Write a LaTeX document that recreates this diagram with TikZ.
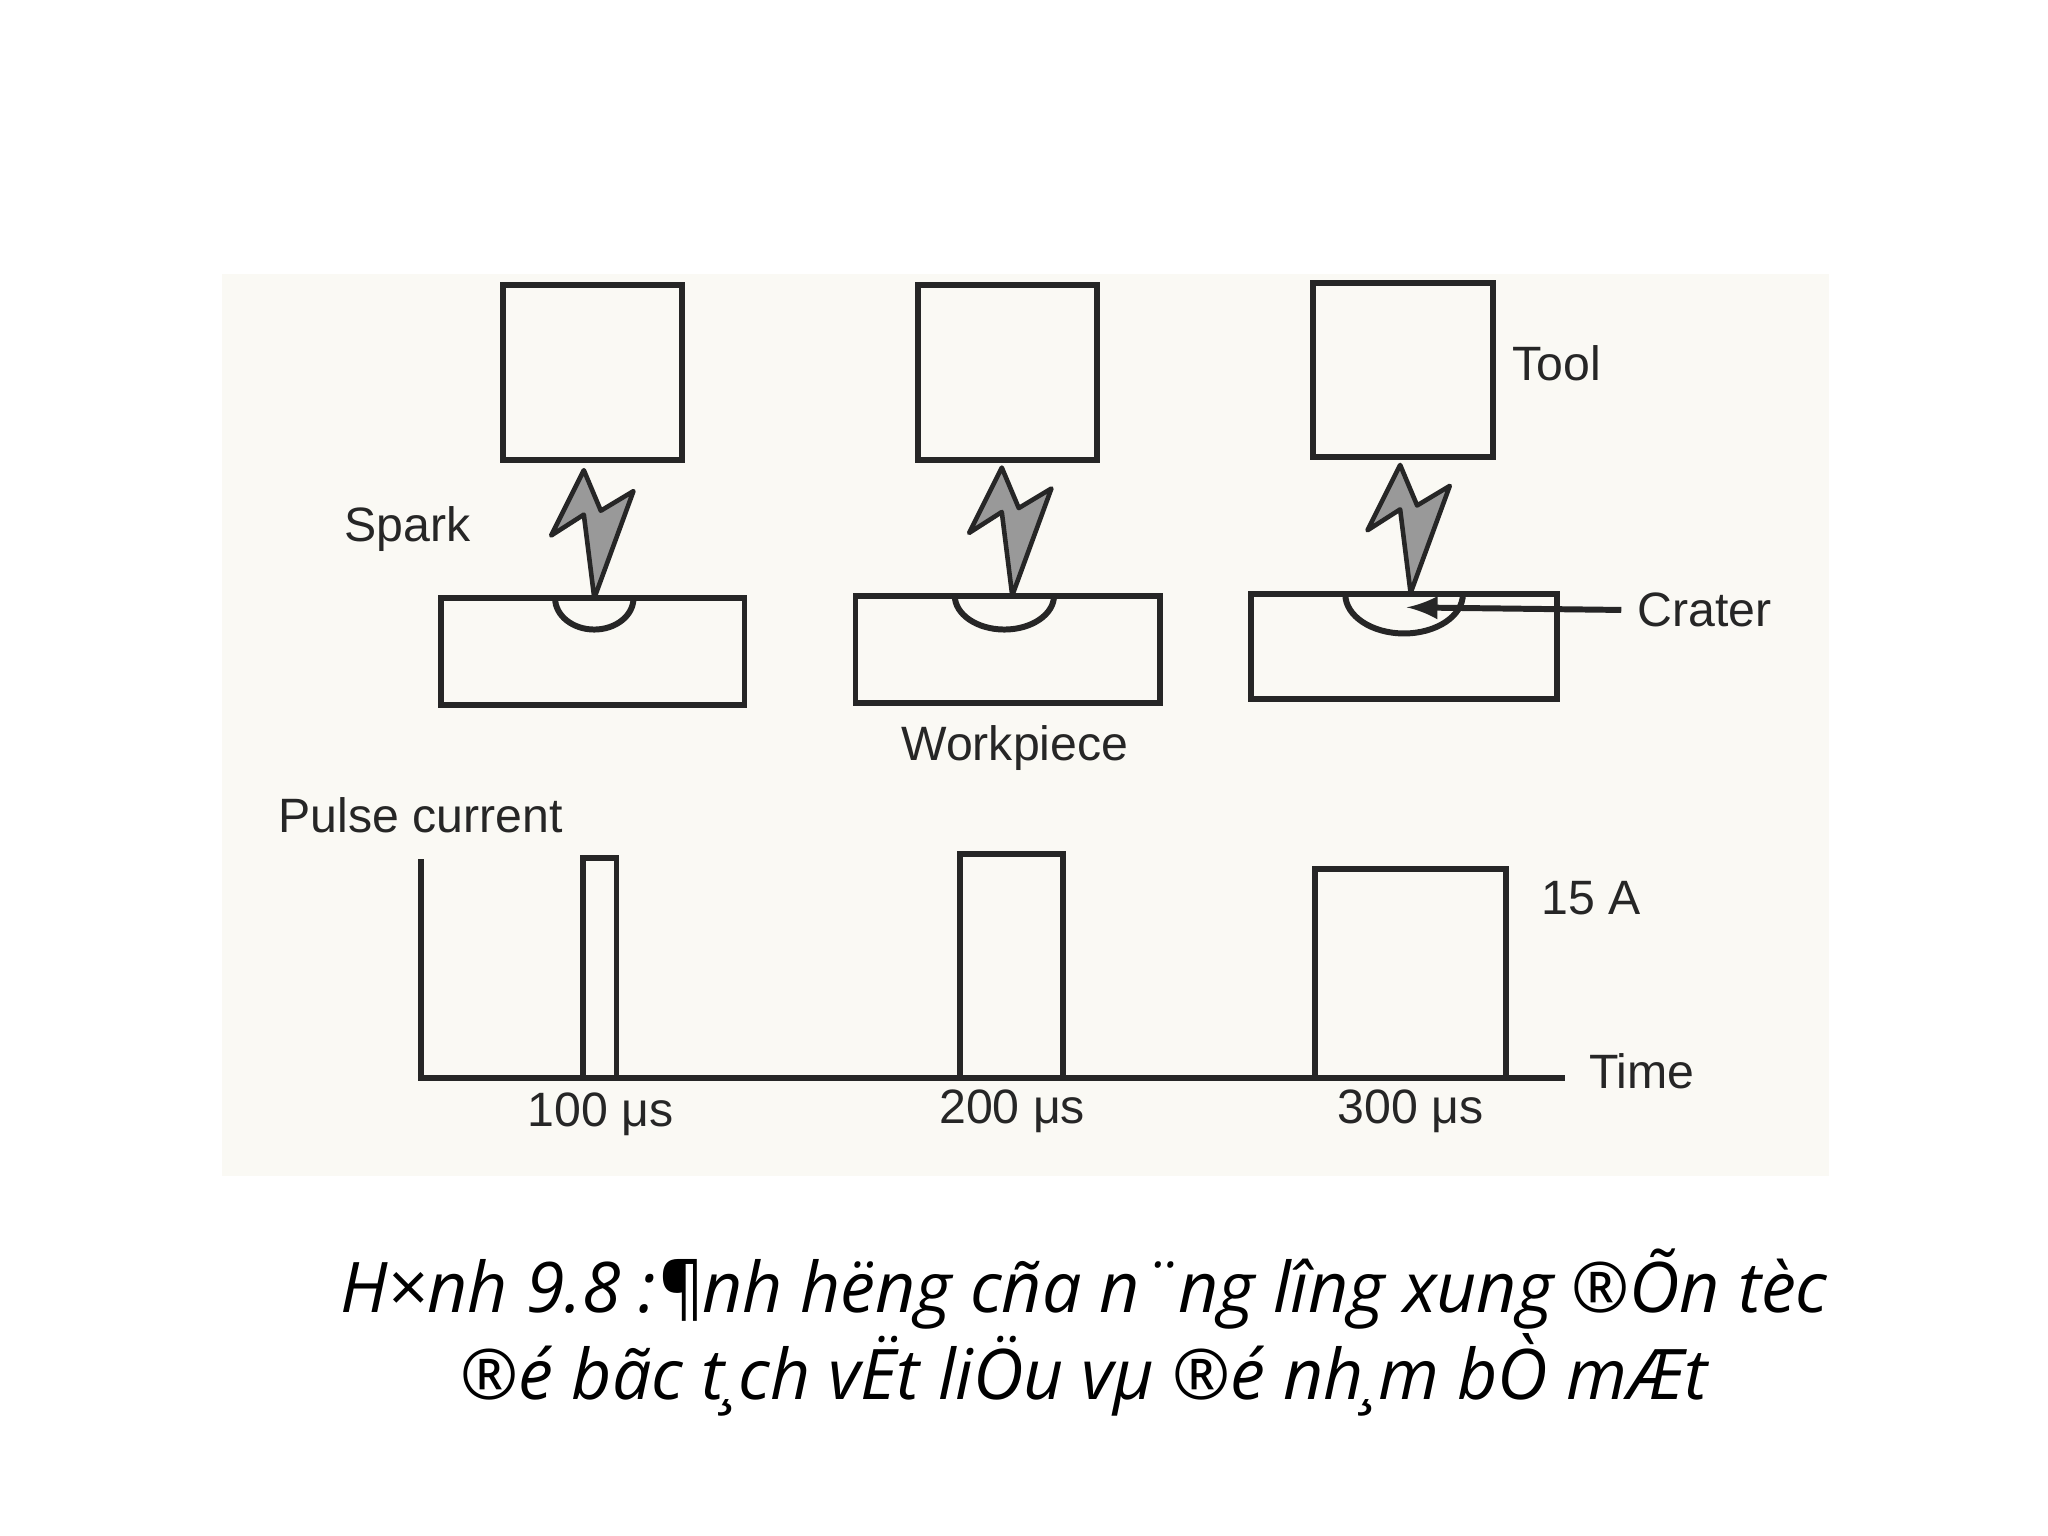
\documentclass[tikz,border=0pt]{standalone}
\usepackage{fontspec}
\setmainfont{Liberation Sans}
\newfontfamily\capfont{Open Sans}
\definecolor{paper}{RGB}{250,249,244}
\begin{document}
\begin{tikzpicture}[x=0.01cm,y=-0.01cm,
  box/.style={draw=black!85,line width=1.3pt},
  lbl/.style={font=\fontsize{10.5}{12}\selectfont,text=black!85},
  bolt/.style={draw=black!85,fill=black!40,line width=1pt,line join=round}]
\useasboundingbox (0,0) rectangle (1568,1176);
\fill[white] (0,0) rectangle (1568,1176);
\fill[paper] (170,210) rectangle (1400,900);
% tools
\draw[box] (385,218) rectangle (522,352);
\draw[box] (703,218) rectangle (840,352);
\draw[box] (1005,217) rectangle (1143,350);
% workpieces
\draw[box] (338,458) rectangle (570,540);
\draw[box] (655,456) rectangle (888,538);
\draw[box] (958,455) rectangle (1192,535);
% craters
\draw[box] (425,458) arc[start angle=180,end angle=360,x radius=30,y radius=-24];
\draw[box] (731,456) arc[start angle=180,end angle=360,x radius=38,y radius=-26];
\draw[box] (1030,455) arc[start angle=180,end angle=360,x radius=45,y radius=-30];
% bolts
\foreach \cx/\ty in {447/360,767/358,1072/356}{
  \draw[bolt] (\cx,\ty) -- ++(-25,50) -- ++(25,-16) -- ++(8,64) -- ++(30,-82) -- ++(-25,15) -- cycle;
}
% labels
\node[lbl] (tool) at (1192,278) {Tool};
\node[lbl] (spark) at (312,405) {Spark};
\node[lbl] (crater) at (1305,467) {Crater};
\coordinate (ctip) at (1077,465);
\draw[line width=1.3pt,black!85,-latex] (crater.west) -- (ctip);
\node[lbl] (wp) at (777,573) {Workpiece};
\node[lbl] (pc) at (322,624) {Pulse current};
% axes
\coordinate (o) at (322,825);
\coordinate (ytop) at (322,658);
\coordinate (xend) at (1198,825);
\draw[box] (ytop) -- (o) -- (xend);
\draw[box] (446,825) -- (446,657) -- (472,657) -- (472,825);
\draw[box] (735,825) -- (735,654) -- (814,654) -- (814,825);
\draw[box] (1007,825) -- (1007,665) -- (1153,665) -- (1153,825);
\node[lbl] (a) at (1218,688) {15 A};
\node[lbl] (t) at (1257,820) {Time};
\node[lbl] (t1) at (460,853) {100 μs};
\node[lbl] (t2) at (775,851) {200 μs};
\node[lbl] (t3) at (1080,851) {300 μs};
% caption
\node[font=\capfont\itshape\fontsize{15.2}{18}\selectfont,align=center] (cap) at (830,1020)
 {H×nh 9.8 :¶nh hëng cña n¨ng lîng xung ®Õn tèc\\®é bãc t¸ch vËt liÖu vµ ®é nh¸m bÒ mÆt};
\end{tikzpicture}
\end{document}
